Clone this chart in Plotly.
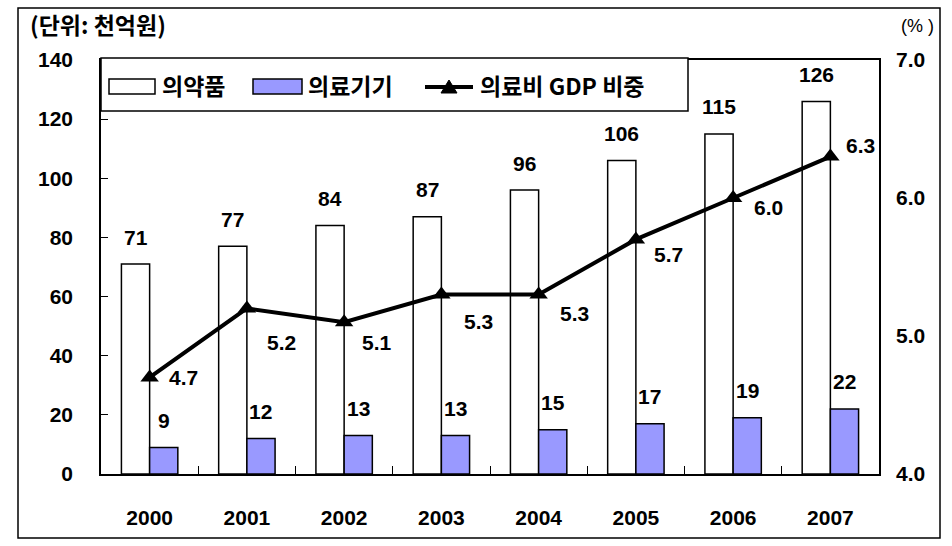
import plotly.graph_objects as go

years = ["2000", "2001", "2002", "2003", "2004", "2005", "2006", "2007"]
pharma = [71, 77, 84, 87, 96, 106, 115, 126]
devices = [9, 12, 13, 13, 15, 17, 19, 22]
gdp_share = [4.7, 5.2, 5.1, 5.3, 5.3, 5.7, 6.0, 6.3]
series_names = ["의약품", "의료기기", "의료비 GDP 비중"]
# label offsets (pixels) for the line value labels
line_lbl_dx = [34, 35, 33, 37, 36, 33, 35, 30]
line_lbl_dy = [0, -34, -20, -27, -19, -15, -9, 11]

FONT = "Liberation Sans, Noto Sans CJK KR, Arial, sans-serif"
KFONT = "Noto Sans CJK KR, Liberation Sans, sans-serif"
W, H = 952, 546
L, R, T, B = 101, 879, 60, 474
WHITE_FILL = "white"
BLUE_FILL = "#9999FF"

fig = go.Figure()
fig.add_trace(go.Bar(
    x=years, y=pharma, name=series_names[0], showlegend=False,
    marker=dict(color=WHITE_FILL, line=dict(color="black", width=1.5)),
))
fig.add_trace(go.Bar(
    x=years, y=devices, name=series_names[1], showlegend=False,
    marker=dict(color=BLUE_FILL, line=dict(color="black", width=1.5)),
))
fig.add_trace(go.Scatter(
    x=years, y=gdp_share, name=series_names[2], yaxis="y2", showlegend=False,
    mode="lines+markers",
    line=dict(color="black", width=4),
    marker=dict(symbol="triangle-up", size=16, color="black"),
    cliponaxis=False,
))

pw, ph = R - L, B - T
def px(x):
    return (x - L) / pw
def py(y):
    return (B - y) / ph

lbl_font = dict(size=21, family=FONT, color="black", weight="bold")
tick_font = dict(size=21, family=FONT, color="black", weight="bold")

annotations = []
for i, v in enumerate(pharma):
    annotations.append(dict(x=i, y=v, xref="x", yref="y", text=str(v), showarrow=False,
                            xshift=-14, yshift=27, xanchor="center", yanchor="middle",
                            font=lbl_font))
for i, v in enumerate(devices):
    annotations.append(dict(x=i, y=v, xref="x", yref="y", text=str(v), showarrow=False,
                            xshift=14, yshift=27, xanchor="center", yanchor="middle",
                            font=lbl_font))
for i, (v, dx, dy) in enumerate(zip(gdp_share, line_lbl_dx, line_lbl_dy)):
    annotations.append(dict(x=i, y=v, xref="x", yref="y2", text=f"{v:.1f}", showarrow=False,
                            xshift=dx, yshift=dy, xanchor="center", yanchor="middle",
                            font=lbl_font))

# titles
annotations.append(dict(text="(단위: 천억원)", xref="paper", yref="paper", x=px(28), y=py(24),
                        xanchor="left", yanchor="middle", showarrow=False,
                        font=dict(size=23, family=KFONT, color="black", weight="bold")))
annotations.append(dict(text="(% )", xref="paper", yref="paper", x=px(917), y=py(26),
                        xanchor="center", yanchor="middle", showarrow=False,
                        font=dict(size=18, family=FONT, color="black")))

# manual legend texts
leg_font = dict(size=23, family=KFONT, color="black", weight="bold")
legend_text_x = [160, 306, 478]
for name, lx in zip(series_names, legend_text_x):
    annotations.append(dict(text=name, xref="paper", yref="paper", x=px(lx), y=py(85),
                            xanchor="left", yanchor="middle", showarrow=False, font=leg_font))

shapes = [
    # outer frame
    dict(type="rect", xref="paper", yref="paper",
         x0=px(18), x1=px(940), y0=py(538), y1=py(8),
         line=dict(color="black", width=1.5), fillcolor="rgba(0,0,0,0)", layer="below"),
    # legend box
    dict(type="rect", xref="paper", yref="paper",
         x0=px(101), x1=px(688), y0=py(111), y1=py(58),
         line=dict(color="black", width=1.5), fillcolor="white", layer="above"),
    # legend swatches
    dict(type="rect", xref="paper", yref="paper",
         x0=px(109), x1=px(155), y0=py(94), y1=py(79),
         line=dict(color="black", width=1.5), fillcolor=WHITE_FILL, layer="above"),
    dict(type="rect", xref="paper", yref="paper",
         x0=px(253), x1=px(302), y0=py(94), y1=py(79),
         line=dict(color="black", width=1.5), fillcolor=BLUE_FILL, layer="above"),
    dict(type="line", xref="paper", yref="paper",
         x0=px(425), x1=px(473), y0=py(87), y1=py(87),
         line=dict(color="black", width=4), layer="above"),
    dict(type="path", xref="paper", yref="paper",
         path=f"M {px(441)} {py(93)} L {px(457)} {py(93)} L {px(449)} {py(80)} Z",
         line=dict(color="black", width=1), fillcolor="black", layer="above"),
]

fig.update_layout(
    width=W, height=H,
    margin=dict(l=L, r=W - R, t=T, b=H - B),
    paper_bgcolor="white", plot_bgcolor="white",
    font=dict(family=FONT, size=18, color="black"),
    barmode="group", bargap=0.42, bargroupgap=0,
    showlegend=False,
    xaxis=dict(
        type="category", range=[-0.5, len(years) - 0.5],
        showline=True, linecolor="black", linewidth=1.5,
        mirror=True, ticks="inside", tickson="boundaries", ticklen=8,
        tickcolor="black", showgrid=False, ticklabelstandoff=24,
        tickfont=tick_font,
    ),
    yaxis=dict(
        range=[0, 140], dtick=20, showline=True, linecolor="black", linewidth=1.5,
        mirror=True, ticks="inside", ticklen=7, tickcolor="black",
        showgrid=False, zeroline=False, ticklabelstandoff=22,
        tickfont=tick_font,
    ),
    yaxis2=dict(
        range=[4.0, 7.0], dtick=1.0, tickformat=".1f", overlaying="y", side="right",
        showline=False, ticks="", showgrid=False, zeroline=False,
        ticklabelstandoff=16,
        tickfont=tick_font,
    ),
    shapes=shapes,
    annotations=annotations,
)

fig.write_html("out.html")
